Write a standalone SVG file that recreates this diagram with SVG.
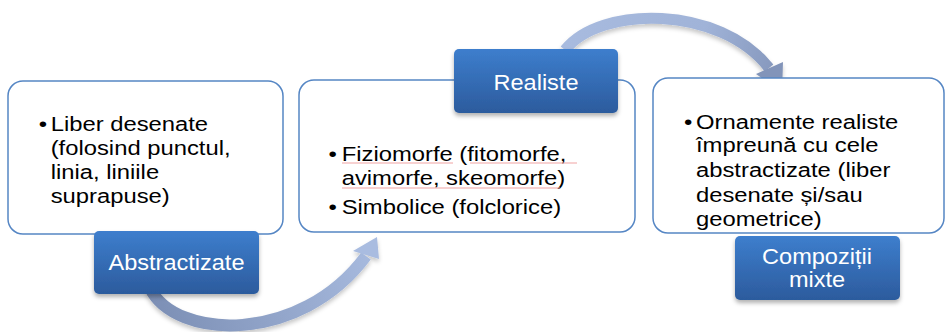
<svg xmlns="http://www.w3.org/2000/svg" width="945" height="332" viewBox="0 0 945 332">
  <defs>
    <linearGradient id="lbl" x1="0" y1="0" x2="0" y2="1">
      <stop offset="0" stop-color="#3d7ecd"/>
      <stop offset="1" stop-color="#2c5b9d"/>
    </linearGradient>
    <linearGradient id="arr1" gradientUnits="userSpaceOnUse" x1="150" y1="320" x2="380" y2="240">
      <stop offset="0" stop-color="#7b8eb4"/>
      <stop offset="1" stop-color="#a9bce0"/>
    </linearGradient>
    <linearGradient id="arr2" gradientUnits="userSpaceOnUse" x1="565" y1="20" x2="785" y2="80">
      <stop offset="0" stop-color="#a8bbdf"/>
      <stop offset="0.6" stop-color="#a0b3d8"/>
      <stop offset="1" stop-color="#8294b9"/>
    </linearGradient>
    <filter id="shadow" x="-20%" y="-20%" width="140%" height="160%">
      <feDropShadow dx="0" dy="3" stdDeviation="2" flood-color="#000" flood-opacity="0.3"/>
    </filter>
    <filter id="ashadow" x="-20%" y="-30%" width="140%" height="170%">
      <feDropShadow dx="0" dy="3" stdDeviation="2" flood-color="#000" flood-opacity="0.22"/>
    </filter>
  </defs>
  <style>
    .box { fill: #ffffff; stroke: #5586c4; stroke-width: 1.5; }
    .label { fill: url(#lbl); filter: url(#shadow); }
    .ltxt { font-family: "Liberation Sans", Arial, sans-serif; font-size: 22px; fill: #ffffff; text-anchor: middle; }
    .btxt { font-family: "Liberation Sans", Arial, sans-serif; font-size: 20px; fill: #000000; }
    .spell { stroke: #f0a3a3; stroke-width: 1; fill: none; }
  </style>
  <rect width="945" height="332" fill="#ffffff"/>

  <g id="connectors">
    <g id="arrow-abstractizate-realiste" filter="url(#ashadow)">
      <path d="M150,288 C175,340 300,345 366,256" fill="none" stroke="url(#arr1)" stroke-width="12"/>
      <polygon points="353,251 377,237 379,259" fill="#a9bce0"/>
    </g>
    <g id="arrow-realiste-compozitii" filter="url(#ashadow)">
      <path d="M565,50 C600,5 720,5 769,68" fill="none" stroke="url(#arr2)" stroke-width="11"/>
      <polygon points="783,62 756,74 782,92" fill="#8294b9"/>
    </g>
  </g>

  <g id="node-abstractizate">
    <rect class="box" x="8" y="81" width="275" height="153" rx="15"/>
    <g transform="translate(50.7,0) scale(1.19,1)">
      <text class="btxt" x="-10" y="131.5">•</text>
      <text class="btxt" x="0" y="131.5">Liber desenate</text>
      <text class="btxt" x="0" y="155.5">(folosind punctul,</text>
      <text class="btxt" x="0" y="179.5">linia, liniile</text>
      <text class="btxt" x="0" y="203.5">suprapuse)</text>
    </g>
    <rect class="label" x="94" y="231" width="165" height="63" rx="5"/>
    <text class="ltxt" transform="translate(176.5,270) scale(1.07,1)">Abstractizate</text>
  </g>

  <g id="node-realiste">
    <rect class="box" x="299" y="80" width="336" height="152" rx="15"/>
    <g transform="translate(341.7,0) scale(1.19,1)">
      <text class="btxt" x="-11" y="161.5">•</text>
      <text class="btxt" x="0" y="161.5">Fiziomorfe (fitomorfe,</text>
      <text class="btxt" x="0" y="185">avimorfe, skeomorfe)</text>
      <text class="btxt" x="-11" y="214.5">•</text>
      <text class="btxt" x="0" y="214.5">Simbolice (folclorice)</text>
    </g>
    <path class="spell" d="M342,163 L453,163 M470,163 L577,163 M342,188 L560,188"/>
    <rect class="label" x="454" y="49" width="164" height="64" rx="5"/>
    <text class="ltxt" transform="translate(536,89.5) scale(1.07,1)">Realiste</text>
  </g>

  <g id="node-compozitii-mixte">
    <rect class="box" x="653" y="78" width="291" height="155" rx="15"/>
    <g transform="translate(696,0) scale(1.19,1)">
      <text class="btxt" x="-10" y="129.3">•</text>
      <text class="btxt" x="0" y="129.3">Ornamente realiste</text>
      <text class="btxt" x="0" y="152.5">împreună cu cele</text>
      <text class="btxt" x="0" y="177.3">abstractizate (liber</text>
      <text class="btxt" x="0" y="201.7">desenate și/sau</text>
      <text class="btxt" x="0" y="226">geometrice)</text>
    </g>
    <rect class="label" x="735" y="236" width="165" height="64" rx="5"/>
    <text class="ltxt" transform="translate(817,263.7) scale(1.07,1)">Compoziții</text>
    <text class="ltxt" transform="translate(817,287) scale(1.07,1)">mixte</text>
  </g>
</svg>
